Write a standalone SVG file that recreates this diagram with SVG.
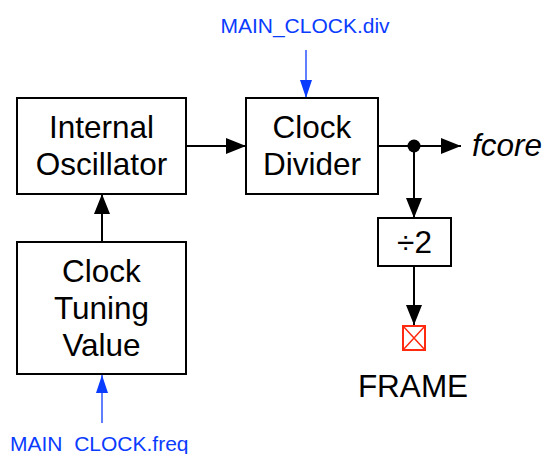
<svg xmlns="http://www.w3.org/2000/svg" width="543" height="454" viewBox="0 0 543 454">
<style>
.box{fill:#fff;stroke:#000;stroke-width:2}
.t{font-family:"Liberation Sans",Arial,sans-serif;font-size:31.5px;fill:#000;text-anchor:middle}
.b{font-family:"Liberation Sans",Arial,sans-serif;font-size:21px;fill:#0a3cff}
.w{stroke:#000;stroke-width:2;fill:none}
.bw{stroke:#2a55ff;stroke-width:1.5;fill:none}
</style>
<defs>
<marker id="ah" markerUnits="userSpaceOnUse" markerWidth="20" markerHeight="18" refX="20" refY="8" orient="auto"><path d="M0,0 L20,8 L0,16 Z" fill="#000"/></marker>
<marker id="bh" markerUnits="userSpaceOnUse" markerWidth="18" markerHeight="14" refX="18" refY="6" orient="auto"><path d="M0,0 L18,6 L0,12 Z" fill="#0a3cff"/></marker>
</defs>
<g id="connectors">
<line class="w" x1="186" y1="146" x2="246" y2="146" marker-end="url(#ah)"/>
<line class="w" x1="102" y1="242" x2="102" y2="194" marker-end="url(#ah)"/>
<line class="w" x1="378" y1="146" x2="461" y2="146" marker-end="url(#ah)"/>
<line class="w" x1="414" y1="146" x2="414" y2="218" marker-end="url(#ah)"/>
<line class="w" x1="414" y1="266" x2="414" y2="325" marker-end="url(#ah)"/>
<circle cx="414" cy="146" r="6.5" fill="#000"/>
<line class="bw" x1="306" y1="50" x2="306" y2="98" marker-end="url(#bh)"/>
<line class="bw" x1="102" y1="423" x2="102" y2="375" marker-end="url(#bh)"/>
</g>
<g id="osc">
<rect class="box" x="17" y="98" width="169" height="96"/>
<text class="t" x="101.5" y="138">Internal</text>
<text class="t" x="101.5" y="175">Oscillator</text>
</g>
<g id="divider">
<rect class="box" x="246" y="98" width="132" height="96"/>
<text class="t" x="312" y="138">Clock</text>
<text class="t" x="312" y="175">Divider</text>
</g>
<g id="tuning">
<rect class="box" x="17" y="242" width="169" height="132"/>
<text class="t" x="101.5" y="282">Clock</text>
<text class="t" x="101.5" y="319">Tuning</text>
<text class="t" x="101.5" y="356">Value</text>
</g>
<g id="div2">
<rect class="box" x="378" y="218" width="73" height="48"/>
<text class="t" x="414.5" y="253">÷2</text>
</g>
<g id="frame">
<rect x="403" y="326" width="22" height="24" fill="none" stroke="#ff2a10" stroke-width="2"/>
<path d="M403,326 L425,350 M425,326 L403,350" stroke="#ff2a10" stroke-width="1.5"/>
<text class="t" x="413" y="397">FRAME</text>
</g>
<g id="fcore">
<text class="t" x="472" y="156" style="text-anchor:start;font-style:italic">fcore</text>
</g>
<g id="divlabel">
<text class="b" x="305" y="33" text-anchor="middle">MAIN_CLOCK.div</text>
</g>
<g id="freqlabel">
<text class="b" x="10" y="451">MAIN_CLOCK.freq</text>
</g>
</svg>
